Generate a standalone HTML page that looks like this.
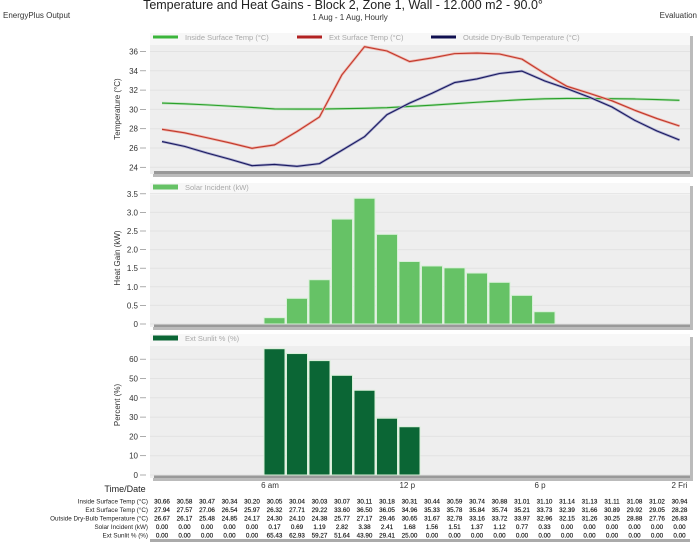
<!DOCTYPE html>
<html><head><meta charset="utf-8"><style>
body{margin:0;background:#fff;font-family:"Liberation Sans",sans-serif;}
svg text{font-family:"Liberation Sans",sans-serif;}
</style></head><body>
<svg id="c" width="699" height="543" xmlns="http://www.w3.org/2000/svg">
<text x="343" y="9" font-size="12.5" text-anchor="middle" fill="#222">Temperature and Heat Gains - Block 2, Zone 1, Wall - 12.000 m2 - 90.0°</text>
<text x="350" y="20" font-size="8" text-anchor="middle" fill="#333">1 Aug - 1 Aug, Hourly</text>
<text x="3" y="18" font-size="8" fill="#333">EnergyPlus Output</text>
<text x="697" y="18" font-size="8" text-anchor="end" fill="#333">Evaluation</text>
<g id="g"></g>
</svg>
<script>
const hours = ["1","2","3","4","5","6","7","8","9","10","11","12","13","14","15","16","17","18","19","20","21","22","23","24"];
const insideSurf = [30.66,30.58,30.47,30.34,30.20,30.05,30.04,30.03,30.07,30.11,30.18,30.31,30.44,30.59,30.74,30.88,31.01,31.10,31.14,31.13,31.11,31.08,31.02,30.94];
const extSurf = [27.94,27.57,27.06,26.54,25.97,26.32,27.71,29.22,33.60,36.50,36.05,34.96,35.33,35.78,35.84,35.74,35.21,33.73,32.39,31.66,30.89,29.92,29.05,28.28];
const dryBulb = [26.67,26.17,25.48,24.85,24.17,24.30,24.10,24.38,25.77,27.17,29.46,30.65,31.67,32.78,33.16,33.72,33.97,32.96,32.15,31.26,30.25,28.88,27.76,26.83];
const solar = [0,0,0,0,0,0.17,0.69,1.19,2.82,3.38,2.41,1.68,1.56,1.51,1.37,1.12,0.77,0.33,0,0,0,0,0,0];
const sunlit = [0,0,0,0,0,65.43,62.93,59.27,51.64,43.90,29.41,25.00,0,0,0,0,0,0,0,0,0,0,0,0];
const tempTicks = [24,26,28,30,32,34,36];
const solarTicks = ["0","0.5","1.0","1.5","2.0","2.5","3.0","3.5"];
const pctTicks = [0,10,20,30,40,50,60];
const xLabels = [["6 am",4.8],["12 p",10.9],["6 p",16.8],["2 Fri",23]];

const NS="http://www.w3.org/2000/svg";
const G=document.getElementById('g');
function el(t,a,txt){const e=document.createElementNS(NS,t);for(const k in a)e.setAttribute(k,a[k]);if(txt!==undefined)e.textContent=txt;G.appendChild(e);return e;}
const X=i=>162+22.5*i;
const yT=v=>167.3-(v-24)*9.65;
const yS=v=>324-v*37.2;
const yP=v=>475-v*1.93;
const PL=150,PR=690;

function panel(top,bot,name){
  const r=el('rect',{x:PL+3,y:top+3,width:PR-PL,height:bot-top,fill:'#bbb'});
  
  const p=el('rect',{x:PL,y:top,width:PR-PL,height:bot-top,fill:'#eeeeee'});
  
  const l=el('rect',{x:PL,y:top,width:PR-PL,height:12,fill:'#f7f7f7'});
  
  const a=el('rect',{x:PL+4,y:bot-3,width:PR-PL-4,height:3,fill:'#999'});
  
}
panel(33,174,'temperature-panel');
panel(183,327,'heat-gain-panel');
panel(334,478,'percent-panel');

function grid(ys,labels,name){
  ys.forEach((y,k)=>{
    const l=el('line',{x1:PL,x2:PR,y1:y,y2:y,stroke:'#e2e2e2','stroke-width':1});
    
    const t=el('line',{x1:140,x2:146,y1:y,y2:y,stroke:'#888','stroke-width':0.7});
    
    const tx=el('text',{x:138,y:y+3,'font-size':8,'text-anchor':'end',fill:'#333'},labels[k]);
    
  });
}
grid(tempTicks.map(yT),tempTicks.map(String),'temperature-y');
grid(solarTicks.map(s=>yS(parseFloat(s))),solarTicks,'heat-gain-y');
grid(pctTicks.map(yP),pctTicks.map(String),'percent-y');

function ytitle(x,y,s,name){const t=el('text',{x:x,y:y,'font-size':8,'text-anchor':'middle',fill:'#333',transform:`rotate(-90 ${x} ${y})`},s);}
ytitle(120,109,'Temperature (°C)','temperature-y-title');
ytitle(120,258,'Heat Gain (kW)','heat-gain-y-title');
ytitle(120,405,'Percent (%)','percent-y-title');

function legend(x,y,color,label,name,h){
  const r=el('rect',{x:x,y:y-(h||3)/2-3,width:25,height:h||3,fill:color});
  
  const t=el('text',{x:x+32,y:y,'font-size':7.5,fill:'#aaa'},label);
  
}
legend(153,40,'#3bb53b','Inside Surface Temp (°C)','inside-surface-temp');
legend(297,40,'#b22222','Ext Surface Temp (°C)','ext-surface-temp');
legend(431,40,'#101050','Outside Dry-Bulb Temperature (°C)','outside-dry-bulb');
legend(153,190,'#66c266','Solar Incident (kW)','solar-incident',5);
legend(153,341,'#0b6635','Ext Sunlit % (%)','ext-sunlit',5);

function line(arr,color,halo,name){
  const pts=arr.map((v,i)=>X(i)+','+yT(v)).join(' ');
  if(halo){const h=el('polyline',{points:pts,fill:'none',stroke:halo,'stroke-width':2.6,'stroke-linejoin':'round'});}
  const p=el('polyline',{points:pts,fill:'none',stroke:color,'stroke-width':1.1,'stroke-linejoin':'round'});
  
}
line(insideSurf,'#2aa02a','#b8e0b8','inside-surface-temp');
line(dryBulb,'#1a1a60','#a8a8cc','outside-dry-bulb');
line(extSurf,'#c0392b','#f0b0a8','ext-surface-temp');

function bars(arr,yf,color,name){
  arr.forEach((v,i)=>{ if(v<=0) return;
    const y=yf(v);
    const b=el('rect',{x:X(i)-10.5,y:y,width:21,height:yf(0)-y,fill:color,stroke:'#d8f0d8','stroke-width':1});
    
  });
}
bars(solar,yS,'#66c266','solar-incident');
bars(sunlit,yP,'#0b6635','ext-sunlit');

xLabels.forEach(([s,i])=>{const t=el('text',{x:X(i),y:488,'font-size':8,'text-anchor':'middle',fill:'#333'},s);});
const td=el('text',{x:125,y:492,'font-size':9,'text-anchor':'middle',fill:'#222'},'Time/Date');


const rows=[['Inside Surface Temp (°C)',insideSurf],['Ext Surface Temp (°C)',extSurf],['Outside Dry-Bulb Temperature (°C)',dryBulb],['Solar Incident (kW)',solar],['Ext Sunlit % (%)',sunlit]];
rows.forEach(([lab,arr],r)=>{
  const y=503.5+r*8.5;
  const t=el('text',{x:148,y:y,'font-size':6.3,'text-anchor':'end',fill:'#222'},lab);
  
  arr.forEach((v,i)=>{const c=el('text',{x:X(i),y:y,'font-size':6.3,'text-anchor':'middle',fill:'#111','stroke':'#111','stroke-width':0.15},v.toFixed(2));});
});
const tb=el('rect',{x:150,y:539,width:540,height:3,fill:'#aaa'});

</script>
</body></html>
